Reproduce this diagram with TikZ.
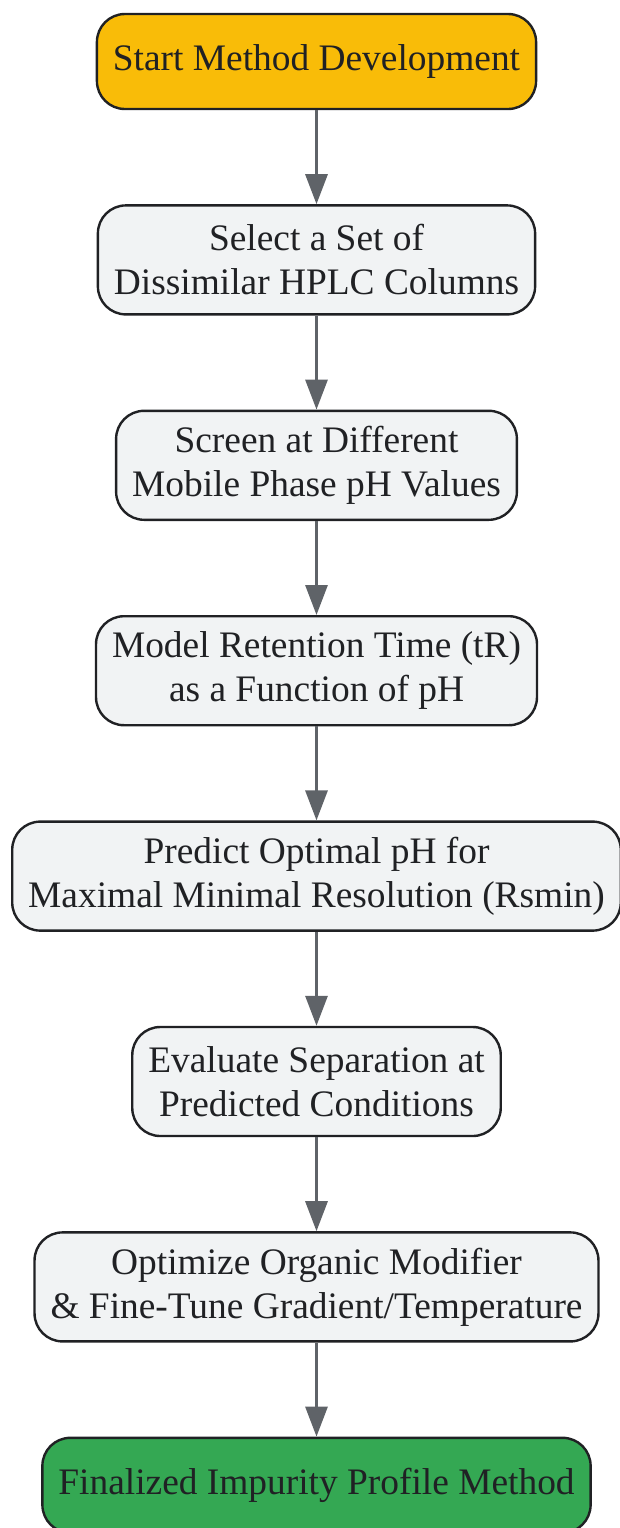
\documentclass[tikz,border=0pt]{standalone}
\usepackage{fontspec}
\setmainfont{Liberation Serif}
\usetikzlibrary{positioning,arrows.meta}
\definecolor{startyellow}{HTML}{F9BC08}
\definecolor{stepgray}{HTML}{F1F3F4}
\definecolor{endgreen}{HTML}{34A853}
\definecolor{edgedark}{HTML}{202124}
\definecolor{arrowgray}{HTML}{5F6368}
\begin{document}
\begin{tikzpicture}  % ------ HPLC method development flow -------------------
  [stepbox/.style={draw=edgedark, line width=1.2pt, fill=stepgray, rounded corners=14pt,
     align=center, inner xsep=8pt, minimum height=54.5pt, text=edgedark,
     font=\fontsize{18.7}{22}\selectfont},
   endbox/.style={stepbox, minimum height=47.5pt},
   flow/.style={draw=arrowgray, line width=1.5pt, -{Triangle[length=15pt,width=11pt]}},
   node distance=47pt]
  \useasboundingbox (0,0) rectangle (310pt,-764pt);
  \node[endbox, fill=startyellow] (start) at (158.25pt,-30.75pt) {Start Method Development};
  \node[stepbox, below=of start] (columns) {Select a Set of\\Dissimilar HPLC Columns};
  \node[stepbox, below=of columns] (screen) {Screen at Different\\Mobile Phase pH Values};
  \node[stepbox, below=of screen] (model) {Model Retention Time (tR)\\as a Function of pH};
  \node[stepbox, below=of model] (predict) {Predict Optimal pH for\\Maximal Minimal Resolution (Rsmin)};
  \node[stepbox, below=of predict] (evaluate) {Evaluate Separation at\\Predicted Conditions};
  \node[stepbox, below=of evaluate] (optimize) {Optimize Organic Modifier\\\& Fine-Tune Gradient/Temperature};
  \node[endbox, fill=endgreen, below=of optimize] (final) {Finalized Impurity Profile Method};
  % arrows
  \foreach \a/\b in {start/columns, columns/screen, screen/model, model/predict,
                     predict/evaluate, evaluate/optimize, optimize/final}
    \draw[flow] (\a) -- (\b);
\end{tikzpicture}
\end{document}
